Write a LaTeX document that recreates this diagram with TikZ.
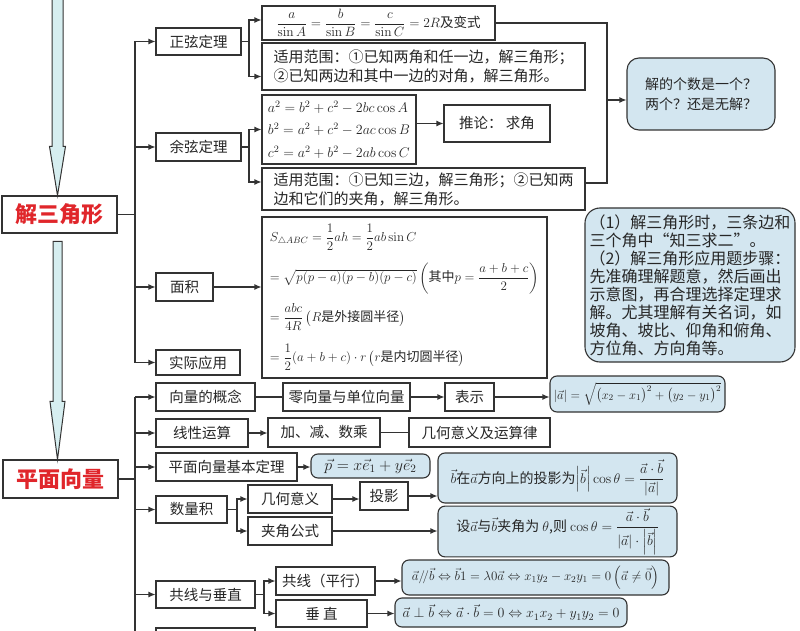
\RequirePackage{fix-cm}
\documentclass[tikz,border=0pt]{standalone}
\usepackage{amsmath,amssymb}
\usepackage[no-math]{fontspec}
\setmainfont{Noto Sans CJK SC}
\usepackage{xcolor}
\usepackage{tikz}
\usetikzlibrary{positioning,calc,arrows.meta}
\definecolor{linegray}{HTML}{333333}
\definecolor{boxblue}{HTML}{D3E6F0}
\definecolor{arrowcyan}{HTML}{D6EEF0}
\definecolor{titlered}{HTML}{E0262B}

\begin{document}
\begin{tikzpicture}[x=1pt,y=-1pt,
    box/.style={draw=linegray, line width=1.1pt, fill=white, inner sep=2pt, text=black!85, font=\fontsize{14.5}{17}\selectfont},
    bbox/.style={box, fill=boxblue, rounded corners=7pt},
    title/.style={box, text=titlered, font=\fontsize{22}{26}\selectfont\bfseries},
    link/.style={draw=linegray, line width=1.1pt},
    arr/.style={link, -{Latex[length=7pt,width=6pt]}},
    bigarr/.style={draw=linegray, line width=1pt, fill=arrowcyan}]
\useasboundingbox (0,0) rectangle (800,631);

% trunks and brackets
\coordinate (trk) at (135,0);
\coordinate (brA) at (249,0);
\coordinate (rt) at (607,0);
\coordinate (brS) at (237,0);
\coordinate (brG) at (264,0);
\coordinate (axis) at (57.5,0);

% solving triangles
\node[title, minimum width=115, minimum height=37] (jsjx) at (59.5,214.5) {解三角形};
\node[box, minimum width=85, minimum height=27] (zxdl) at (198.5,41.5) {正弦定理};
\node[box, minimum width=85, minimum height=28] (yxdl) at (198.5,147) {余弦定理};
\node[box, minimum width=57, minimum height=28] (mj) at (184.5,287) {面积};
\node[box, minimum width=84, minimum height=25] (sjyy) at (198,362.5) {实际应用};

\node[box, minimum width=233, minimum height=34, inner sep=1pt, font=\fontsize{13.5}{15}\selectfont] (zxgs) at (378.5,23)
    {$\dfrac{a}{\sin A}=\dfrac{b}{\sin B}=\dfrac{c}{\sin C}=2R$及变式};
\node[box, minimum width=323, minimum height=47, align=left, font=\fontsize{15}{19}\selectfont] (zxfw) at (423.5,66.5)
    {适用范围：①已知两角和任一边，解三角形；\\②已知两边和其中一边的对角，解三角形。};
\node[box, minimum width=154, minimum height=69, align=left, font=\fontsize{14}{22.5}\selectfont] (yxgs) at (339,129.5)
    {$a^2=b^2+c^2-2bc\cos A$\\$b^2=a^2+c^2-2ac\cos B$\\$c^2=a^2+b^2-2ab\cos C$};
\node[box, minimum width=106, minimum height=37] (tl) at (497,123.5) {推论：\ 求角};
\node[box, minimum width=323, minimum height=42, align=left, font=\fontsize{15}{19}\selectfont] (yxfw) at (423.5,189)
    {适用范围：①已知三边，解三角形；②已知两\\边和它们的夹角，解三角形。};
\node[bbox, rounded corners=12pt, minimum width=148, minimum height=72, align=left, font=\fontsize{14}{20}\selectfont] (jgs) at (701,94)
    {解的个数是一个？\\两个？还是无解？};
\node[bbox, rounded corners=15pt, minimum width=210, minimum height=154, align=left, font=\fontsize{16}{18}\selectfont] (zy) at (690,285)
    {（1）解三角形时，三条边和\\三个角中“知三求二”。\\（2）解三角形应用题步骤：\\先准确理解题意，然后画出\\示意图，再合理选择定理求\\解。尤其理解有关名词，如\\坡角、坡比、仰角和俯角、\\方位角、方向角等。};
\node[box, minimum width=285, minimum height=161, inner sep=1pt, align=left, font=\fontsize{13}{40}\selectfont] (mjgs) at (404.5,297.5)
    {$S_{\triangle ABC}=\dfrac{1}{2}ah=\dfrac{1}{2}ab\sin C$\\
     $=\sqrt{p(p-a)(p-b)(p-c)}\left(\text{其中}p=\dfrac{a+b+c}{2}\right)$\\
     $=\dfrac{abc}{4R}\left(R\text{是外接圆半径}\right)$\\
     $=\dfrac{1}{2}(a+b+c)\cdot r\left(r\text{是内切圆半径}\right)$};

\coordinate (zxgsIn) at ([yshift=3pt]zxgs.west);
\coordinate (zxfwIn) at ([yshift=-10pt]zxfw.west);
\coordinate (yxfwIn) at ([yshift=7pt]yxfw.west);
\coordinate (yxfwOut) at ([yshift=6pt]yxfw.east);
\coordinate (jgsIn) at ([yshift=-6pt]jgs.west);

\draw[link] (jsjx.east) -- (trk |- jsjx.east);
\draw[link] (trk |- zxdl.west) -- (trk |- sjyy.west);
\draw[arr] (trk |- zxdl.west) -- (zxdl.west);
\draw[arr] (trk |- yxdl.west) -- (yxdl.west);
\draw[arr] (trk |- mj.west) -- (mj.west);
\draw[arr] (trk |- sjyy.west) -- (sjyy.west);

\draw[arr] (zxdl.east) -- (brA |- zxdl.east) |- (zxgsIn);
\draw[arr] (brA |- zxdl.east) |- (zxfwIn);
\draw[arr] (yxdl.east) -- (brA |- yxdl.east) |- (yxgs.west);
\draw[arr] (brA |- yxdl.east) |- (yxfwIn);
\draw[arr] (yxgs.east |- tl.west) -- (tl.west);
\draw[link] (zxgs.east) -| (rt |- yxfwOut) -- (yxfwOut);
\draw[arr] (rt |- jgsIn) -- (jgsIn);
\draw[arr] (mj.east) -- (mj.east -| mjgs.west);

% plane vectors
\node[title, minimum width=115, minimum height=38] (pmxl) at (60.5,479) {平面向量};
\node[box, minimum width=99, minimum height=28] (gn) at (205.5,397) {向量的概念};
\node[box, minimum width=92, minimum height=28] (xx) at (202,433) {线性运算};
\node[box, minimum width=141, minimum height=28] (jbdl) at (226.5,467) {平面向量基本定理};
\node[box, minimum width=71, minimum height=27] (slj) at (191.5,509.5) {数量积};
\node[box, minimum width=99, minimum height=27] (gxcz) at (205.5,594.5) {共线与垂直};
\coordinate (qt) at (156,642);
\draw[link, fill=white] (156,628) rectangle (255,656);

\node[box, minimum width=127, minimum height=28] (lxl) at (346.5,397) {零向量与单位向量};
\node[box, minimum width=49, minimum height=28] (bs) at (469.5,397) {表示};
\node[bbox, minimum width=175, minimum height=36, inner sep=1pt, font=\fontsize{12.5}{15}\selectfont] (mo) at (637.5,394)
    {$\left|\vec{a}\right|=\sqrt{\bigl(x_2-x_1\bigr)^2+\bigl(y_2-y_1\bigr)^2}$};
\node[box, minimum width=112, minimum height=29] (jjs) at (324,432.5) {加、减、数乘};
\node[box, minimum width=141, minimum height=29] (yl) at (479.5,432.5) {几何意义及运算律};
\node[bbox, minimum width=119, minimum height=24, inner sep=1pt, font=\fontsize{16}{19}\selectfont] (pv) at (370.5,466)
    {$\vec{p}=x\vec{e}_1+y\vec{e}_2$};
\node[box, minimum width=84, minimum height=28] (jhyy) at (290,499) {几何意义};
\node[box, minimum width=84, minimum height=28] (jjgs) at (290,531) {夹角公式};
\node[box, minimum width=48, minimum height=28] (ty) at (384,496) {投影};
\node[bbox, minimum width=239, minimum height=50, font=\fontsize{14}{17}\selectfont] (tyjg) at (557.5,478)
    {$\vec{b}$在$\vec{a}$方向上的投影为$\left|\vec{b}\right|\cos\theta=\dfrac{\vec{a}\cdot\vec{b}}{\left|\vec{a}\right|}$};
\node[bbox, minimum width=239, minimum height=47, font=\fontsize{14}{17}\selectfont] (jjjg) at (557.5,531.5)
    {设$\vec{a}$与$\vec{b}$夹角为 $\theta$,则 $\cos\theta=\dfrac{\vec{a}\cdot\vec{b}}{\left|\vec{a}\right|\cdot\left|\vec{b}\right|}$};
\node[box, minimum width=99, minimum height=28] (gx) at (325.5,581) {共线（平行）};
\node[box, minimum width=91, minimum height=27] (cz) at (321.5,613.5) {垂\ 直};
\node[bbox, minimum width=267, minimum height=35, inner sep=1pt, font=\fontsize{13}{16}\selectfont] (pxjg) at (535.5,577.5)
    {$\vec{a}/\!/\vec{b}\Leftrightarrow\vec{b}1=\lambda0\vec{a}\Leftrightarrow x_1y_2-x_2y_1=0\left(\vec{a}\neq\vec{0}\right)$};
\node[bbox, minimum width=232, minimum height=29, font=\fontsize{14}{17}\selectfont] (czjg) at (511,612.5)
    {$\vec{a}\perp\vec{b}\Leftrightarrow\vec{a}\cdot\vec{b}=0\Leftrightarrow x_1x_2+y_1y_2=0$};

\draw[link] (pmxl.east) -- (trk |- pmxl.east);
\draw[link] (trk |- gn.west) -- (trk |- qt);
\draw[arr] (trk |- gn.west) -- (gn.west);
\draw[arr] (trk |- xx.west) -- (xx.west);
\draw[arr] (trk |- jbdl.west) -- (jbdl.west);
\draw[arr] (trk |- slj.west) -- (slj.west);
\draw[arr] (trk |- gxcz.west) -- (gxcz.west);
\draw[arr] (trk |- qt) -- (qt);

\draw[link] (gn.east) -- (lxl.west);
\draw[arr] (lxl.east) -- (bs.west);
\draw[arr] (bs.east) -- (bs.east -| mo.west);
\draw[arr] (xx.east) -- (xx.east -| jjs.west);
\draw[link] (jjs.east) -- (yl.west);
\draw[arr] (jbdl.east) -- (jbdl.east -| pv.west);
\draw[arr] (slj.east) -- (brS |- slj.east) |- (jhyy.west);
\draw[arr] (brS |- slj.east) |- (jjgs.west);
\draw[arr] (jhyy.east) -- (jhyy.east -| ty.west);
\draw[arr] (ty.east) -- (ty.east -| tyjg.west);
\draw[arr] (jjgs.east) -- (jjgs.east -| jjjg.west);
\draw[arr] (gxcz.east) -- (brG |- gxcz.east) |- (gx.west);
\draw[arr] (brG |- gxcz.east) |- (cz.west);
\draw[arr] (gx.east) -- (gx.east -| pxjg.west);
\draw[arr] (cz.east) -- (cz.east -| czjg.west);

% big arrows on the left
\coordinate (tipA) at (axis |- jsjx.north);
\coordinate (tipB) at (axis |- pmxl.north);
\begin{scope}[shift={(tipA)}]
  \draw[bigarr] (-5.5,-205) -- (-5.5,-49) -- (-8,-49) -- (0,0) -- (8,-49) -- (5.5,-49) -- (5.5,-205) -- cycle;
\end{scope}
\begin{scope}[shift={(tipB)}]
  \draw[bigarr] (-4.5,-218) -- (-4.5,-58) -- (-7.5,-58) -- (0,0) -- (7.5,-58) -- (4.5,-58) -- (4.5,-218) -- cycle;
\end{scope}
\end{tikzpicture}
\end{document}
